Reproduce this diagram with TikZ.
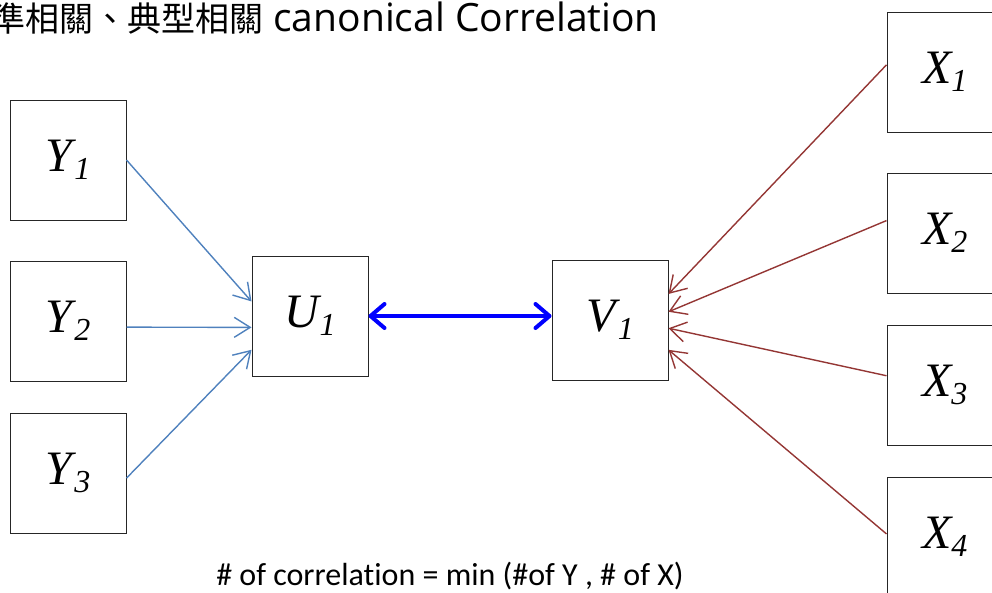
\documentclass[tikz,border=0pt]{standalone}
\usepackage{fontspec}
\setmainfont{Liberation Serif}
\newfontfamily\titlefont{Open Sans}
\newfontfamily\cjk{Noto Sans CJK TC}
\newfontfamily\notefont[Ligatures={NoCommon,NoDiscretionary}]{Carlito}
\definecolor{YBlue}{HTML}{4F81BD}
\definecolor{XRed}{HTML}{943634}
\usetikzlibrary{arrows.meta, positioning, calc}

\newcommand{\varlab}[2]{\fontsize{48}{48}\selectfont\textit{#1}\kern-2pt\raisebox{-8pt}{\fontsize{32}{32}\selectfont\textit{#2}}}

\tikzset{
  varbox/.style={draw=black!85, line width=1pt, minimum width=116pt, minimum height=120pt, inner sep=0pt},
  yarrow/.style={draw=YBlue, line width=1.4pt, -{Straight Barb[length=16pt,width=20pt]}},
  xarrow/.style={draw=XRed, line width=1.4pt, -{Straight Barb[length=16pt,width=20pt]}},
  corrarrow/.style={draw=blue, line width=4pt, {Straight Barb[length=14pt,width=24pt,round]}-{Straight Barb[length=14pt,width=24pt,round]}}
}

\begin{document}
\begin{tikzpicture}[x=1pt, y=-1pt]
  \useasboundingbox (0,0) rectangle (992,592);
  % Title
  \node[anchor=base west, inner sep=0pt, font=\titlefont\fontsize{39}{39}\selectfont] (title) at (-9,31)
    {{\cjk\fontsize{34}{34}\selectfont 準相關、典型相關} canonical Correlation};
  % Y variables
  \foreach \i/\y in {1/160, 2/321, 3/473}
    \node[varbox] (Y\i) at (68,\y) {\varlab{Y}{\i}};
  % X variables
  \foreach \i/\y in {1/72, 2/233, 3/385, 4/537}
    \node[varbox] (X\i) at (945,\y) {\varlab{X}{\i}};
  % Canonical variates
  \node[varbox] (U1) at (310,316) {\varlab{U}{1}};
  \node[varbox] (V1) at (610,320) {\varlab{V}{1}};
  % Y -> U1
  \draw[yarrow] (Y1.east) -- (U1.166);
  \draw[yarrow] (Y2.-6) -- (U1.191);
  \draw[yarrow] (Y3.-5) -- (U1.210);
  % X -> V1
  \foreach \i/\s/\e in {1/173/24, 2/168/8, 3/171/-8, 4/177/-27}
    \draw[xarrow] (X\i.\s) -- (V1.\e);
  % Correlation between U1 and V1
  \draw[corrarrow] (U1.east) -- (U1.east -| V1.west);
  % Note
  \node[anchor=base, inner sep=0pt, font=\notefont\fontsize{32}{32}\selectfont] (note) at (450,585)
    {\# of correlation = min (\#of Y , \# of X)};
\end{tikzpicture}
\end{document}
